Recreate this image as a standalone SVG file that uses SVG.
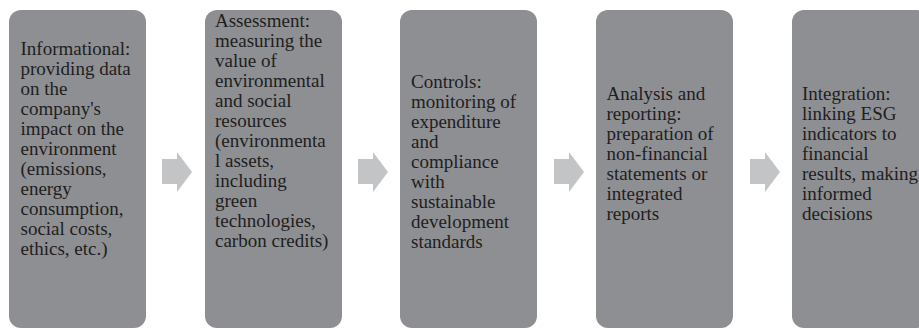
<svg xmlns="http://www.w3.org/2000/svg" width="919" height="329" viewBox="0 0 919 329">
  <style>
    .box { fill: #8e8f92; }
    .arrow { fill: #c3c4c6; }
    .label { font-family: "Liberation Serif", "DejaVu Serif", serif; font-size: 19px; fill: #1e1e1e; }
  </style>
  <defs>
    <path id="arrowShape" d="M0,7 H15 V0 L30,20 L15,40 V32 H0 Z"/>
  </defs>
  <rect width="919" height="329" fill="#ffffff"/>

  <g id="connectors">
    <use href="#arrowShape" class="arrow" x="162" y="152"/>
    <use href="#arrowShape" class="arrow" x="358" y="152"/>
    <use href="#arrowShape" class="arrow" x="554" y="152"/>
    <use href="#arrowShape" class="arrow" x="750" y="152"/>
  </g>

  <g id="informational">
    <rect class="box" x="9" y="10" width="137" height="318" rx="12"/>
    <text class="label" x="20.5" y="55">
      <tspan x="20.5">Informational:</tspan>
      <tspan x="20.5" dy="20">providing data</tspan>
      <tspan x="20.5" dy="20">on the</tspan>
      <tspan x="20.5" dy="20">company's</tspan>
      <tspan x="20.5" dy="20">impact on the</tspan>
      <tspan x="20.5" dy="20">environment</tspan>
      <tspan x="20.5" dy="20">(emissions,</tspan>
      <tspan x="20.5" dy="20">energy</tspan>
      <tspan x="20.5" dy="20">consumption,</tspan>
      <tspan x="20.5" dy="20">social costs,</tspan>
      <tspan x="20.5" dy="20">ethics, etc.)</tspan>
    </text>
  </g>

  <g id="assessment">
    <rect class="box" x="205" y="10" width="137" height="318" rx="12"/>
    <text class="label" x="215" y="27">
      <tspan x="215">Assessment:</tspan>
      <tspan x="215" dy="20">measuring the</tspan>
      <tspan x="215" dy="20">value of</tspan>
      <tspan x="215" dy="20">environmental</tspan>
      <tspan x="215" dy="20">and social</tspan>
      <tspan x="215" dy="20">resources</tspan>
      <tspan x="215" dy="20">(environmenta</tspan>
      <tspan x="215" dy="20">l assets,</tspan>
      <tspan x="215" dy="20">including</tspan>
      <tspan x="215" dy="20">green</tspan>
      <tspan x="215" dy="20">technologies,</tspan>
      <tspan x="215" dy="20">carbon credits)</tspan>
    </text>
  </g>

  <g id="controls">
    <rect class="box" x="400" y="10" width="137" height="318" rx="12"/>
    <text class="label" x="411" y="88">
      <tspan x="411">Controls:</tspan>
      <tspan x="411" dy="20">monitoring of</tspan>
      <tspan x="411" dy="20">expenditure</tspan>
      <tspan x="411" dy="20">and</tspan>
      <tspan x="411" dy="20">compliance</tspan>
      <tspan x="411" dy="20">with</tspan>
      <tspan x="411" dy="20">sustainable</tspan>
      <tspan x="411" dy="20">development</tspan>
      <tspan x="411" dy="20">standards</tspan>
    </text>
  </g>

  <g id="analysis">
    <rect class="box" x="596" y="10" width="137" height="318" rx="12"/>
    <text class="label" x="606.5" y="100">
      <tspan x="606.5">Analysis and</tspan>
      <tspan x="606.5" dy="20">reporting:</tspan>
      <tspan x="606.5" dy="20">preparation of</tspan>
      <tspan x="606.5" dy="20">non-financial</tspan>
      <tspan x="606.5" dy="20">statements or</tspan>
      <tspan x="606.5" dy="20">integrated</tspan>
      <tspan x="606.5" dy="20">reports</tspan>
    </text>
  </g>

  <g id="integration">
    <rect class="box" x="792" y="10" width="137" height="318" rx="12"/>
    <text class="label" x="802" y="100">
      <tspan x="802">Integration:</tspan>
      <tspan x="802" dy="20">linking ESG</tspan>
      <tspan x="802" dy="20">indicators to</tspan>
      <tspan x="802" dy="20">financial</tspan>
      <tspan x="802" dy="20">results, making</tspan>
      <tspan x="802" dy="20">informed</tspan>
      <tspan x="802" dy="20">decisions</tspan>
    </text>
  </g>
</svg>
